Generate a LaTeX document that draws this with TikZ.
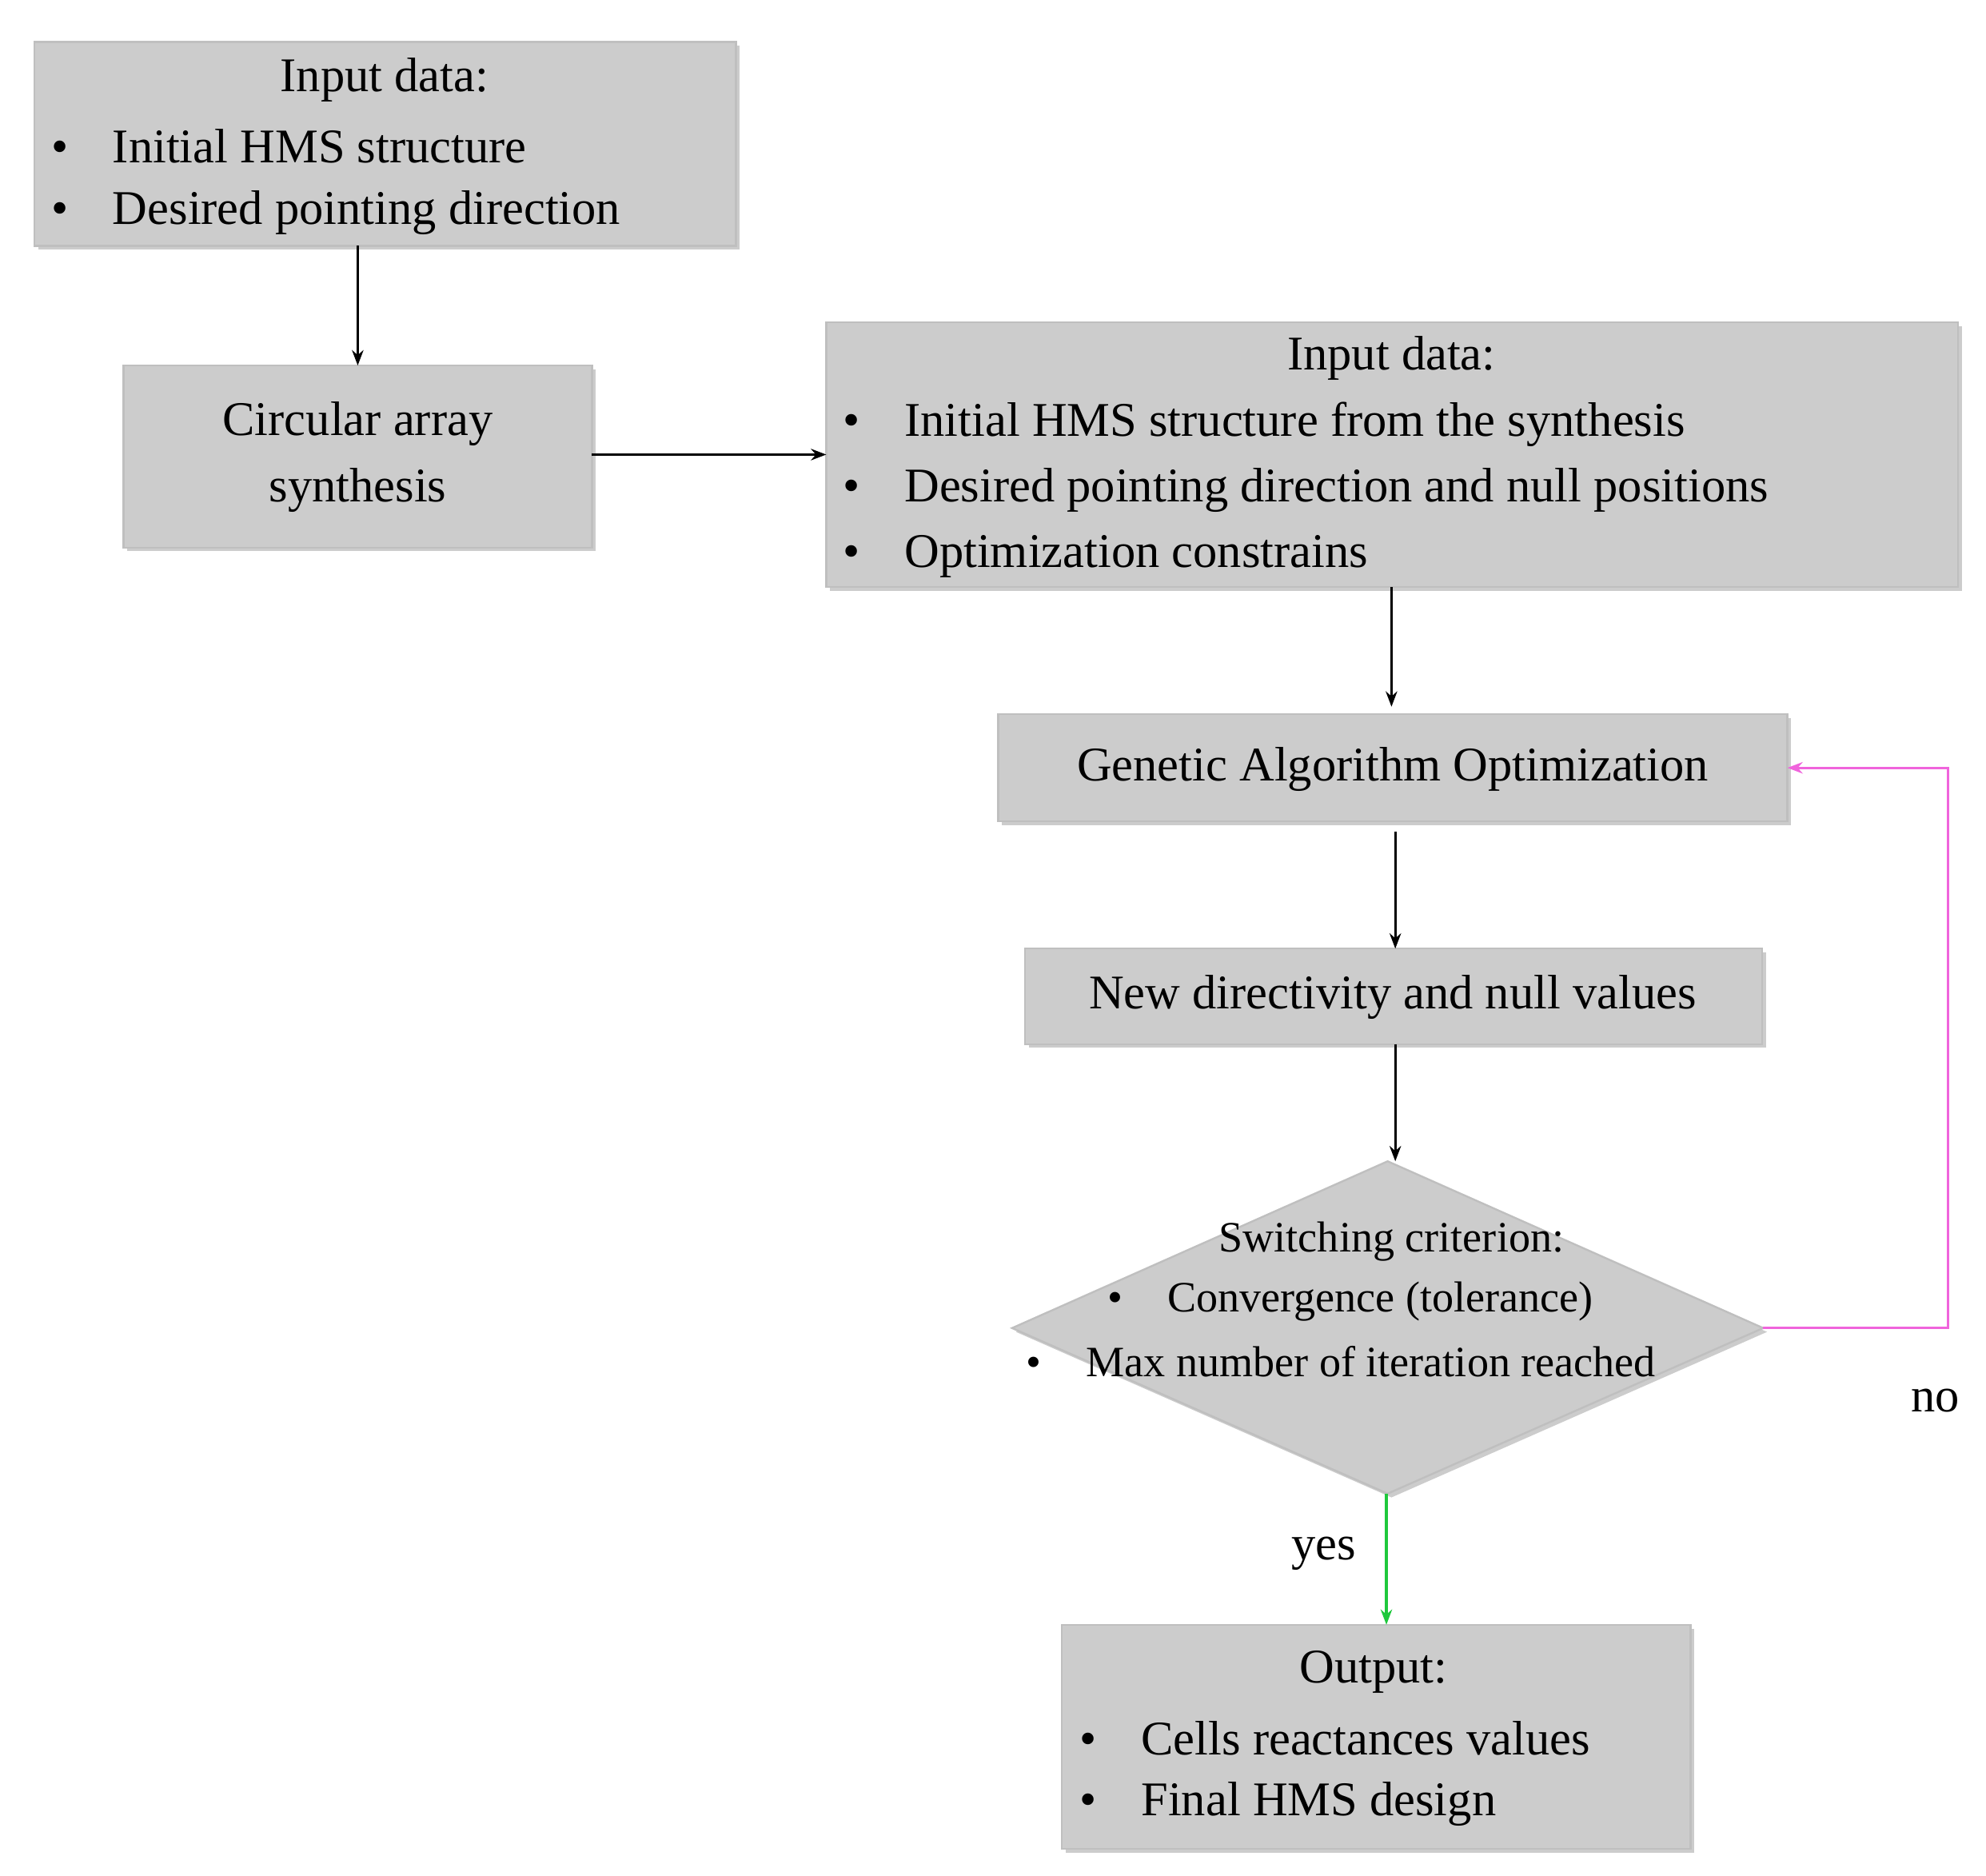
\documentclass[tikz,border=0pt]{standalone}
\usepackage{fontspec}
\setmainfont{Liberation Serif}
\usetikzlibrary{shadows,arrows.meta,shapes.geometric}
\begin{document}
\begin{tikzpicture}[x=1pt,y=-1pt,
  box/.style={draw=black!25,line width=1.5pt,fill=black!20,drop shadow={shadow xshift=3pt,shadow yshift=-3pt,opacity=0.4}},
  txt/.style={font=\fontsize{38}{44}\selectfont,inner sep=0pt},
  dtxt/.style={font=\fontsize{34}{40}\selectfont,inner sep=0pt},
  arr/.style={-{Stealth[length=12pt,width=9pt]},line width=2pt}]
\useasboundingbox (0,0) rectangle (1560,1473);
% boxes
\draw[box] (27,33) rectangle (578,193);
\coordinate (b1s) at (281,193);
\draw[box] (97,287) rectangle (465,430);
\coordinate (b2n) at (281,287); \coordinate (b2e) at (465,357);
\draw[box] (649,253) rectangle (1538,461);
\coordinate (b3w) at (649,357); \coordinate (b3s) at (1093,461);
\draw[box] (784,561) rectangle (1404,645);
\coordinate (b4n) at (1093,561); \coordinate (b4s) at (1096,653); \coordinate (b4e) at (1404,603);
\draw[box] (805,745) rectangle (1384,820);
\coordinate (b5n) at (1096,745); \coordinate (b5s) at (1096,820);
\draw[box] (1090,912) -- (1385,1043) -- (1090,1173) -- (795,1043) -- cycle;
\coordinate (dn) at (1096,912); \coordinate (ds) at (1089,1173); \coordinate (de) at (1385,1043);
\draw[box] (834,1276) rectangle (1328,1452);
\coordinate (b6n) at (1089,1276);
% texts
\node[txt] (t1) at (302,63) {Input data:};
\node[txt,anchor=west] (t1a) at (40,115) {•\hspace{35pt}Initial HMS structure};
\node[txt,anchor=west] (t1b) at (40,167) {•\hspace{35pt}Desired pointing direction};
\node[txt] (t2a) at (281,333) {Circular array};
\node[txt] (t2b) at (281,385) {synthesis};
\node[txt] (t3) at (1093,281) {Input data:};
\node[txt,anchor=west] (t3a) at (662,333) {•\hspace{35pt}Initial HMS structure from the synthesis};
\node[txt,anchor=west] (t3b) at (662,385) {•\hspace{35pt}Desired pointing direction and null positions};
\node[txt,anchor=west] (t3c) at (662,437) {•\hspace{35pt}Optimization constrains};
\node[txt] (t4) at (1094,604) {Genetic Algorithm Optimization};
\node[txt] (t5) at (1094,783) {New directivity and null values};
\node[dtxt] (td) at (1093,975) {Switching criterion:};
\node[dtxt,anchor=west] (tda) at (870,1022) {•\hspace{35pt}Convergence (tolerance)};
\node[dtxt,anchor=west] (tdb) at (806,1069) {•\hspace{35pt}Max number of iteration reached};
\node[txt] (t6) at (1079,1313) {Output:};
\node[txt,anchor=west] (t6a) at (848,1365) {•\hspace{35pt}Cells reactances values};
\node[txt,anchor=west] (t6b) at (848,1417) {•\hspace{35pt}Final HMS design};
\node[txt] (no) at (1520,1100) {no};
\node[txt] (yes) at (1040,1220) {yes};
% connectors
\draw[arr] (b1s) -- (b2n);
\draw[arr] (b2e) -- (b3w);
\draw[arr] (b3s) -- (1093,555);
\draw[arr] (b4s) -- (b5n);
\draw[arr] (b5s) -- (dn);
\draw[arr,draw={rgb,255:red,30;green,200;blue,60}] (ds) -- (b6n);
\draw[arr,draw={rgb,255:red,240;green,100;blue,220}] (de) -- (1530,1043) -- (1530,603) -- (b4e);
\end{tikzpicture}
\end{document}
